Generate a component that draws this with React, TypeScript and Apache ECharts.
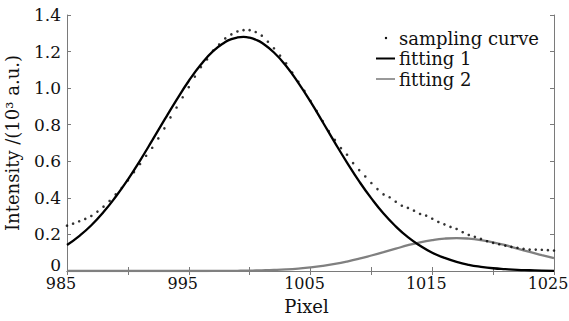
import React, { useEffect, useRef } from "react";
import * as echarts from "echarts";

// x positions of the sampled points (pixel), step 0.5
const sampleX: number[] = [
  985, 985.5, 986, 986.5, 987, 987.5, 988, 988.5, 989, 989.5,
  990, 990.5, 991, 991.5, 992, 992.5, 993, 993.5, 994, 994.5,
  995, 995.5, 996, 996.5, 997, 997.5, 998, 998.5, 999, 999.5,
  1000, 1000.5, 1001, 1001.5, 1002, 1002.5, 1003, 1003.5, 1004, 1004.5,
  1005, 1005.5, 1006, 1006.5, 1007, 1007.5, 1008, 1008.5, 1009, 1009.5,
  1010, 1010.5, 1011, 1011.5, 1012, 1012.5, 1013, 1013.5, 1014, 1014.5,
  1015, 1015.5, 1016, 1016.5, 1017, 1017.5, 1018, 1018.5, 1019, 1019.5,
  1020, 1020.5, 1021, 1021.5, 1022, 1022.5, 1023, 1023.5, 1024, 1024.5,
  1025,
];
const sampleY: number[] = [
  0.248, 0.259, 0.272, 0.285, 0.301, 0.325, 0.352, 0.383, 0.419, 0.454,
  0.495, 0.541, 0.585, 0.63, 0.674, 0.725, 0.78, 0.84, 0.894, 0.95,
  1.005, 1.063, 1.115, 1.157, 1.205, 1.239, 1.272, 1.294, 1.31, 1.317,
  1.317, 1.307, 1.287, 1.254, 1.218, 1.178, 1.136, 1.085, 1.035, 0.985,
  0.93, 0.875, 0.82, 0.765, 0.717, 0.672, 0.636, 0.59, 0.552, 0.517,
  0.481, 0.448, 0.419, 0.403, 0.379, 0.357, 0.345, 0.33, 0.312, 0.303,
  0.286, 0.268, 0.255, 0.241, 0.23, 0.212, 0.197, 0.187, 0.176, 0.163,
  0.154, 0.146, 0.139, 0.132, 0.127, 0.121, 0.117, 0.117, 0.116, 0.114,
  0.112,
];

// fitted curves
const fitX: number[] = [
  985, 986, 987, 988, 989, 990, 991, 992, 993, 994,
  995, 996, 997, 998, 998.5, 999, 999.5, 1000, 1000.5, 1001,
  1002, 1003, 1004, 1005, 1006, 1007, 1008, 1009, 1010, 1011,
  1012, 1013, 1014, 1015, 1016, 1017, 1018, 1019, 1020, 1021,
  1022, 1023, 1024, 1025,
];
const fit1Y: number[] = [
  0.142, 0.191, 0.25, 0.322, 0.406, 0.5, 0.604, 0.714, 0.826, 0.936,
  1.039, 1.129, 1.202, 1.252, 1.268, 1.277, 1.28, 1.276, 1.265, 1.248,
  1.195, 1.121, 1.029, 0.926, 0.815, 0.702, 0.593, 0.49, 0.397, 0.314,
  0.244, 0.185, 0.138, 0.1, 0.072, 0.05, 0.034, 0.023, 0.015, 0.01,
  0.006, 0.004, 0.002, 0.001,
];
const fit2Y: number[] = [
  0, 0, 0, 0, 0, 0, 0, 0, 0, 0,
  0, 0, 0.0004, 0.0007, 0.0009, 0.0012, 0.0015, 0.0021, 0.0027, 0.0035,
  0.0057, 0.0088, 0.0134, 0.0196, 0.028, 0.0387, 0.0518, 0.0672, 0.0847, 0.103,
  0.122, 0.141, 0.157, 0.169, 0.177, 0.18, 0.177, 0.169, 0.157, 0.141,
  0.122, 0.104, 0.087, 0.07,
];

const xLabelTicks: number[] = [985, 995, 1005, 1015, 1025];
const seriesNames: string[] = ["sampling curve", "fitting 1", "fitting 2"];

const FONT = "'DejaVu Serif', serif";
const AXIS_COLOR = "#7a7a7a";
const FS = 18;
const TICK_FS = 16;

export default function App() {
  const ref = useRef<HTMLDivElement>(null);

  useEffect(() => {
    if (!ref.current) return;
    const chart = echarts.init(ref.current, undefined, { renderer: "svg" });

    const common = {
      axisLine: { show: true, lineStyle: { color: AXIS_COLOR, width: 1 } },
      axisTick: { show: true, inside: true, length: 4, lineStyle: { color: AXIS_COLOR } },
      splitLine: { show: false },
    };

    const legendX = 376;
    const legendY = 38;
    const gap = 20.5;

    chart.setOption({
      animation: false,
      backgroundColor: "#ffffff",
      grid: {
        left: 67,
        right: 15,
        top: 15,
        bottom: 50,
        containLabel: false,
        outerBoundsMode: "none",
      },
      xAxis: [
        {
          type: "value",
          min: 985,
          max: 1025,
          interval: 5,
          position: "bottom",
          ...common,
          name: "Pixel",
          nameLocation: "middle",
          nameGap: 27,
          nameTextStyle: {
            fontFamily: FONT,
            fontSize: FS,
            color: "#111",
            lineHeight: 16,
            padding: [0, 8, 0, 0],
          },
          axisLabel: {
            fontFamily: FONT,
            fontSize: TICK_FS,
            color: "#111",
            margin: 6,
            lineHeight: 13,
            padding: [0, 12, 0, 0],
            formatter: (v: number) => (xLabelTicks.includes(v) ? String(v) : ""),
          },
        },
        {
          type: "value",
          min: 985,
          max: 1025,
          interval: 5,
          position: "top",
          ...common,
          axisLabel: { show: false },
        },
      ],
      yAxis: [
        {
          type: "value",
          min: 0,
          max: 1.4,
          interval: 0.2,
          position: "left",
          ...common,
          name: "Intensity /(10³ a.u.)",
          nameLocation: "middle",
          nameGap: 47,
          nameTextStyle: { fontFamily: FONT, fontSize: FS, color: "#111", lineHeight: 16 },
          axisLabel: {
            fontFamily: FONT,
            fontSize: TICK_FS + 1,
            color: "#111",
            margin: 6,
            lineHeight: 12,
            formatter: (v: number) => (Math.abs(v) < 1e-9 ? "{z|0}" : v.toFixed(1)),
            rich: {
              z: {
                fontFamily: FONT,
                fontSize: TICK_FS + 1,
                color: "#111",
                lineHeight: 12,
                padding: [0, 0, 12, 0],
              },
            },
          },
        },
        {
          type: "value",
          min: 0,
          max: 1.4,
          interval: 0.2,
          position: "right",
          ...common,
          axisLabel: { show: false },
        },
      ],
      series: [
        {
          name: seriesNames[0],
          type: "scatter",
          symbol: "circle",
          symbolSize: 2.6,
          itemStyle: { color: "#000" },
          data: sampleX.map((x, i) => [x, sampleY[i]]),
          z: 5,
        },
        {
          name: seriesNames[1],
          type: "line",
          smooth: true,
          showSymbol: false,
          symbol: "none",
          lineStyle: { color: "#000", width: 2.3 },
          data: fitX.map((x, i) => [x, fit1Y[i]]),
          z: 4,
        },
        {
          name: seriesNames[2],
          type: "line",
          smooth: true,
          showSymbol: false,
          symbol: "none",
          lineStyle: { color: "#808080", width: 2.3 },
          data: fitX.map((x, i) => [x, fit2Y[i]]),
          z: 3,
        },
      ],
      graphic: [
        {
          type: "circle",
          shape: { cx: legendX + 10, cy: legendY, r: 1.2 },
          style: { fill: "#000" },
        },
        {
          type: "line",
          shape: { x1: legendX, y1: legendY + gap, x2: legendX + 19, y2: legendY + gap },
          style: { stroke: "#000", lineWidth: 2 },
        },
        {
          type: "line",
          shape: { x1: legendX, y1: legendY + 2 * gap, x2: legendX + 19, y2: legendY + 2 * gap },
          style: { stroke: "#808080", lineWidth: 1.6 },
        },
        ...seriesNames.map((n, i) => ({
          type: "text",
          x: legendX + 23,
          y: legendY + i * gap,
          style: {
            text: n,
            fontFamily: FONT,
            fontSize: FS,
            fill: "#111",
            verticalAlign: "middle",
            align: "left",
          },
        })),
      ],
    });

    return () => chart.dispose();
  }, []);

  return <div ref={ref} style={{ width: 569, height: 321, position: "absolute", left: 0, top: 0 }} />;
}
